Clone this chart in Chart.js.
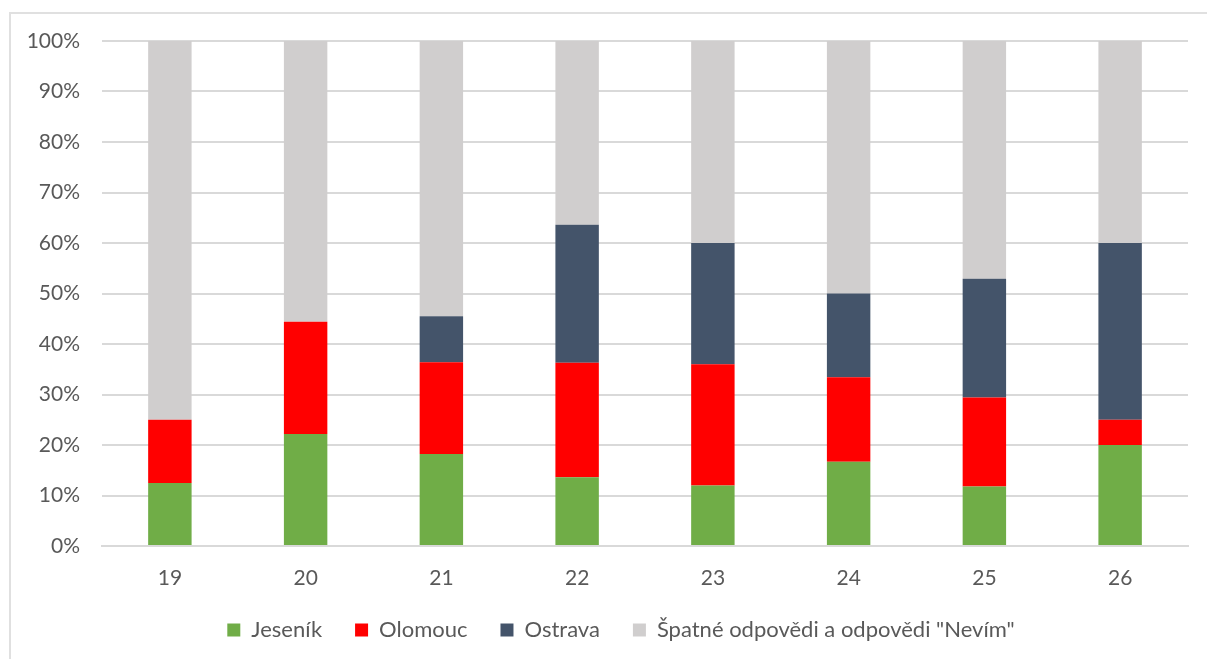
<!DOCTYPE html>
<html lang="cs">
<head>
    <meta charset="UTF-8">
    <title>Odpovědi podle otázek</title>
    <script src="https://cdn.jsdelivr.net/npm/chart.js"></script>
    <style>
        body {
            margin: 0;
            background: #fff;
            font-family: Lato, sans-serif;
        }
        .frame {
            position: absolute;
            left: 9px;
            top: 12px;
            width: 1300px;
            height: 700px;
            border: 2px solid #e0e0e0;
        }
        .wrap {
            position: absolute;
            left: 0;
            top: 0;
            width: 1207px;
            height: 659px;
        }
    </style>
</head>
<body>
    <div class="frame"></div>
    <div class="wrap"><canvas id="chart"></canvas></div>

    <script>
        // otázky 19-26, podíl odpovědí v %
        const categories = ['19', '20', '21', '22', '23', '24', '25', '26'];
        const jesenik = [12.5, 22.2, 18.2, 13.6, 12, 16.7, 11.8, 20];
        const olomouc = [12.5, 22.2, 18.2, 22.7, 24, 16.7, 17.6, 5];
        const ostrava = [0, 0, 9.1, 27.3, 24, 16.6, 23.5, 35];
        const spatne = [75, 55.6, 54.5, 36.4, 40, 50, 47.1, 40];
        const yTicks = [0, 10, 20, 30, 40, 50, 60, 70, 80, 90, 100];

        const textColor = '#595959';
        const gridColor = '#d9d9d9';

        // legenda je v originále posunutá doprava, ne na střed plátna
        const legendShift = {
            id: 'legendShift',
            afterLayout(chart) {
                chart.legend.left += 27;
                chart.legend.right += 27;
            }
        };

        new Chart(document.getElementById('chart'), {
            type: 'bar',
            data: {
                labels: categories,
                datasets: [
                    { label: 'Jeseník', data: jesenik, backgroundColor: '#70ad47' },
                    { label: 'Olomouc', data: olomouc, backgroundColor: '#ff0000' },
                    { label: 'Ostrava', data: ostrava, backgroundColor: '#44546a' },
                    { label: 'Špatné odpovědi a odpovědi "Nevím"', data: spatne, backgroundColor: '#d0cece' }
                ]
            },
            options: {
                responsive: true,
                maintainAspectRatio: false,
                animation: false,
                barPercentage: 0.32,
                categoryPercentage: 1,
                layout: {
                    padding: { left: 0, right: 19, top: 41, bottom: 8 }
                },
                plugins: {
                    legend: {
                        position: 'bottom',
                        labels: {
                            color: textColor,
                            font: { family: 'Lato', size: 22 },
                            boxWidth: 13,
                            boxHeight: 13,
                            padding: 33
                        }
                    },
                    tooltip: { enabled: false }
                },
                scales: {
                    x: {
                        stacked: true,
                        afterFit: scale => { scale.height = 40; },
                        grid: { display: false },
                        border: { color: gridColor, width: 2 },
                        ticks: {
                            color: textColor,
                            font: { family: 'Lato', size: 21 },
                            padding: 12
                        }
                    },
                    y: {
                        stacked: true,
                        min: 0,
                        max: 100,
                        afterFit: scale => { scale.width = 102; },
                        afterBuildTicks: scale => {
                            scale.ticks = yTicks.map(v => ({ value: v }));
                        },
                        grid: { color: gridColor, lineWidth: 2, drawTicks: false },
                        border: { display: false },
                        ticks: {
                            color: textColor,
                            font: { family: 'Lato', size: 21 },
                            padding: 22,
                            callback: v => v + '%'
                        }
                    }
                }
            },
            plugins: [legendShift]
        });
    </script>
</body>
</html>
